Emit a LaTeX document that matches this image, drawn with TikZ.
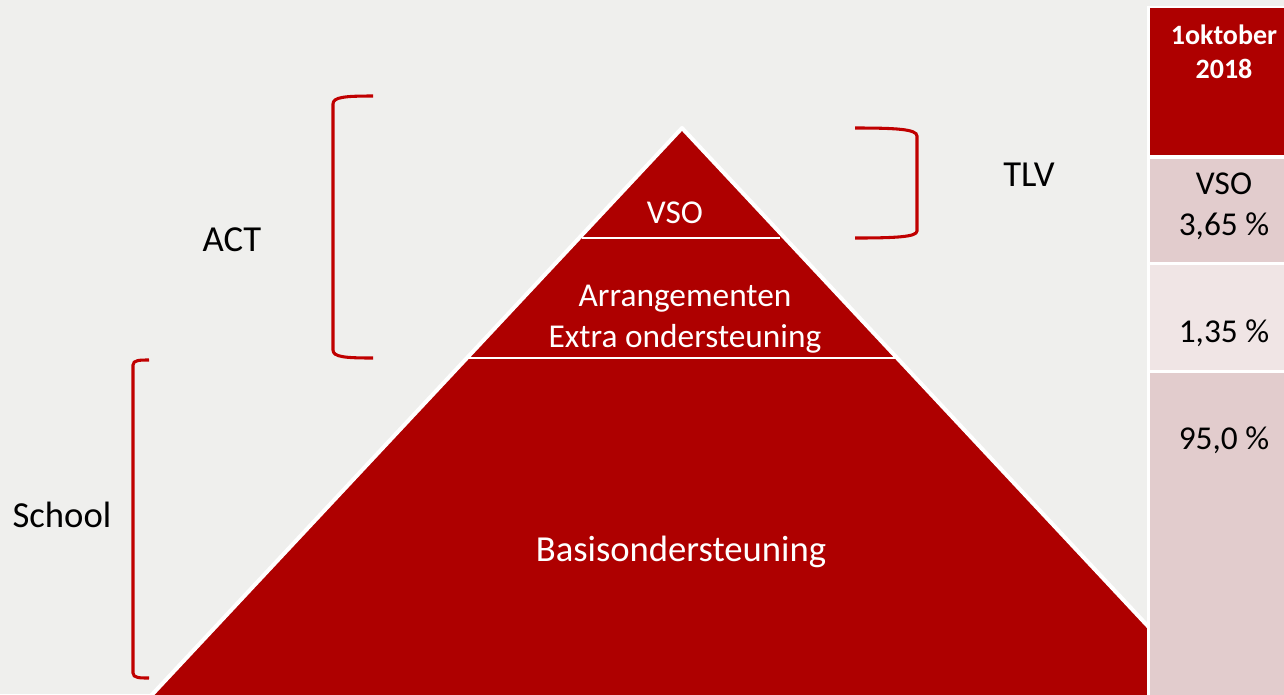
\documentclass[tikz,border=0pt]{standalone}
\usepackage{fontspec}
\setmainfont{Carlito}
\definecolor{pyrred}{RGB}{174,0,0}
\definecolor{brackred}{RGB}{192,0,0}
\definecolor{bggray}{RGB}{239,239,237}
\definecolor{cellpink}{RGB}{226,204,205}
\definecolor{celllight}{RGB}{240,229,229}
\tikzset{
  bigtext/.style={font=\fontsize{27.5}{33}\selectfont, inner sep=0pt},
  midtext/.style={font=\fontsize{25}{31}\selectfont, inner sep=0pt, align=center},
  bracket/.style={draw=brackred, line width=2.3pt},
  cell/.style={draw=none, inner sep=0pt, anchor=north west}
}
\begin{document}
\begin{tikzpicture}[x=0.75pt,y=-0.75pt]
            \fill[bggray] (0,0) rectangle (1284,694);
            \useasboundingbox (0,0) rectangle (1284,694);
            \clip (0,0) rectangle (1284,694);
            % pyramid
            \coordinate (apex) at (682,128);
            \filldraw[fill=pyrred, draw=white, line width=3pt, line join=round] (apex) -- (1217,700) -- (147,700) -- cycle;
            \draw[white, line width=2.2pt] (582,238) -- (780,238);
            \draw[white, line width=2.2pt] (466,358) -- (897,358);
            \node[midtext, text=white] (vso) at (675,213) {VSO};
            \node[midtext, text=white] (arr) at (685,319) {Arrangementen\\Extra ondersteuning};
            \node[bigtext, text=white] (basis) at (681,552) {Basisondersteuning};
            % brackets
            \draw[bracket] (373,96) .. controls (345,96) and (333,97) .. (333,104) -- (333,350) .. controls (333,357) and (345,358) .. (373,358);
            \draw[bracket] (149,360) .. controls (140,360) and (133,360) .. (133,365) -- (133,673) .. controls (133,678) and (140,678) .. (149,678);
            \draw[bracket] (855,128) .. controls (895,128) and (917,129) .. (917,136) -- (917,231) .. controls (917,237) and (895,238) .. (855,238);
            \node[bigtext] (act) at (232,240) {ACT};
            \node[bigtext] (tlv) at (1029,175) {TLV};
            \node[bigtext] (school) at (62,515) {School};
            % table
            \fill[white] (1147,6) rectangle (1290,710);
            \fill[pyrred] (1150,8) rectangle (1290,155);
            \fill[cellpink] (1150,159) rectangle (1290,262);
            \fill[celllight] (1150,265) rectangle (1290,370);
            \fill[cellpink] (1150,373) rectangle (1290,710);
            \node[midtext, text=white, font=\fontsize{21}{25.5}\selectfont\bfseries] (date) at (1224,52) {1oktober\\2018};
            \node[midtext] (pvso) at (1224,206) {VSO\\3,65 \%};
            \node[midtext] (parr) at (1224,333) {1,35 \%};
            \node[midtext] (pbasis) at (1224,440) {95,0 \%};
\end{tikzpicture}
\end{document}
